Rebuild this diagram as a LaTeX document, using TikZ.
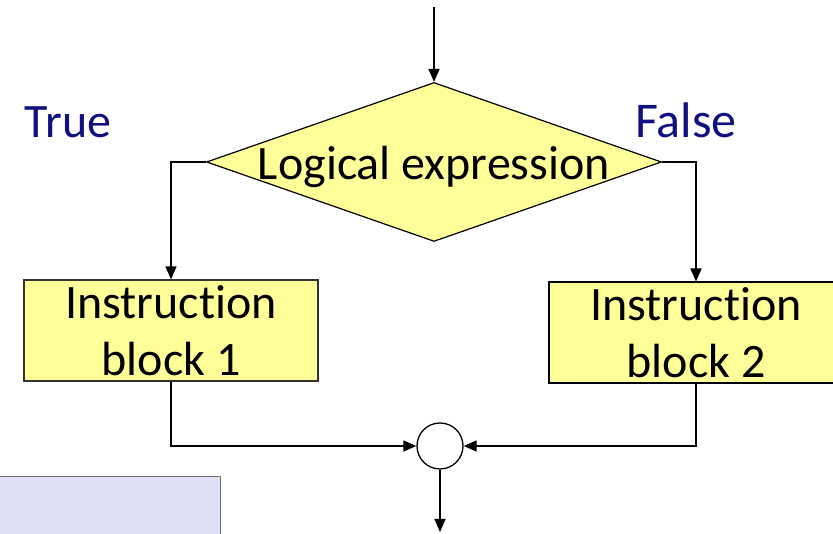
\documentclass[tikz,border=0pt]{standalone}
\usepackage{fontspec}
\setmainfont[Ligatures=NoCommon]{Carlito}
\usetikzlibrary{shapes.geometric,arrows.meta}
\definecolor{boxyellow}{RGB}{255,255,153}
\definecolor{labnavy}{RGB}{16,16,128}
\definecolor{lavender}{RGB}{224,224,245}
\definecolor{lavborder}{RGB}{110,110,110}
\tikzset{
  big/.style={font=\fontsize{48}{57}\selectfont},
  flow/.style={line width=1.5pt,-{Triangle[length=13pt,width=11pt]}},
  instr/.style={draw, fill=boxyellow, minimum width=294pt, minimum height=101pt, inner sep=0pt, align=center, big},
  lab/.style={text=labnavy, anchor=base, big, inner sep=0pt},
}
\begin{document}
\begin{tikzpicture}[x=1pt,y=1pt]
\useasboundingbox (0,0) rectangle (833,534);
\clip (0,0) rectangle (833,534);
\coordinate (start) at (434,527);
\coordinate (finish) at (440,2);
\node[diamond, draw, fill=boxyellow, line width=1.2pt, aspect=2.86, minimum width=455pt, minimum height=159pt, inner sep=0pt] (dec) at (434,372) {};
\node[big, anchor=base, inner sep=0pt] (dectext) at (434,354) {Logical expression};
\node[instr, line width=1.3pt, draw=black!80] (b1) at (171,203.5) {Instruction\\block 1};
\node[instr, line width=2pt] (b2) at (696,201) {Instruction\\block 2};
\node[circle, draw, line width=1.3pt, minimum size=46pt, inner sep=0pt] (join) at (440,88) {};
\node[lab] (true) at (68,396) {True};
\node[lab, font=\fontsize{50}{60}\selectfont] (false) at (686,396) {False};
\node[draw=lavborder, fill=lavender, line width=1.2pt, anchor=south west, minimum width=222pt, minimum height=64pt, inner sep=0pt] (lav) at (-2,-7) {};
\draw[flow] (start) -- (dec.north);
\draw[flow] (dec.west) -| (b1.north);
\draw[flow] (dec.east) -| (b2.north);
\draw[flow] (b1.south) |- (join.west);
\draw[flow] (b2.south) |- (join.east);
\draw[flow] (join.south) -- (finish);
\end{tikzpicture}
\end{document}
